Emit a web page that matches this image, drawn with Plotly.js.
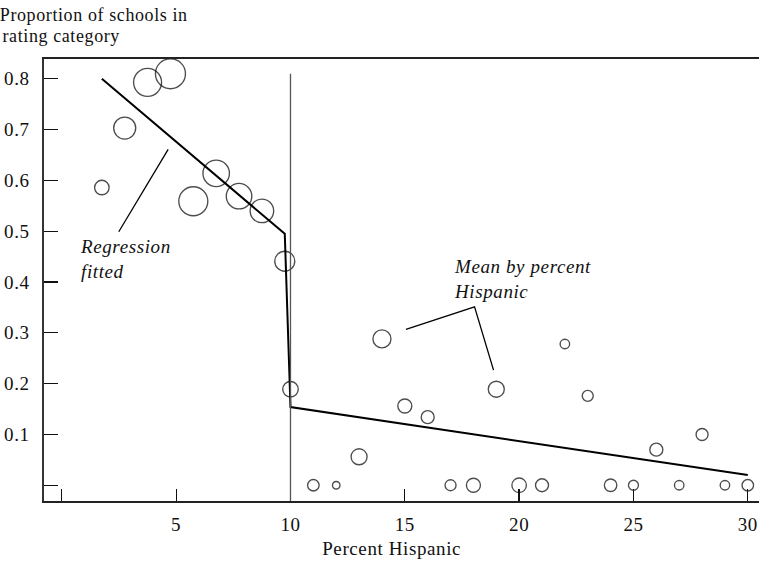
<!DOCTYPE html>
<html>
<head>
<meta charset="utf-8">
<script src="https://cdn.plot.ly/plotly-3.0.1.min.js"></script>
<style>
  html, body { margin: 0; padding: 0; background: #fff; }
  #chart { width: 759px; height: 562px; }
  #chart text { letter-spacing: 0.6px; }
</style>
</head>
<body>
<div id="chart"></div>
<script>
// Percent Hispanic (x) and proportion of schools in the rating category (y)
const pctHispanic = [1.75, 2.75, 3.75, 4.75, 5.75, 6.75, 7.75, 8.75, 9.75,
                     10, 11, 12, 13, 14, 15, 16, 17, 18, 19, 20,
                     21, 22, 23, 24, 25, 26, 27, 28, 29, 30];
const proportion = [0.586, 0.703, 0.793, 0.810, 0.559, 0.614, 0.569, 0.540, 0.441,
                    0.189, 0, 0, 0.056, 0.288, 0.156, 0.134, 0, 0, 0.189, 0,
                    0, 0.278, 0.176, 0, 0, 0.070, 0, 0.100, 0, 0];
// Circle diameter (px) reflects the number of schools behind each mean
const bubbleDiam = [14.5, 22, 28, 30, 29, 26.5, 25.5, 23.5, 20,
                    15.5, 11.5, 7.5, 16, 18, 14, 13, 11, 14, 16, 14.5,
                    13, 9.5, 11, 12.5, 10, 13, 9.5, 12, 9.5, 11.5];

// Fitted regression, discontinuous at the 10 percent cutoff
const fitX = [1.75, 9.75, 10, 30];
const fitY = [0.800, 0.495, 0.154, 0.020];
const cutoff = 10;

const xTickVals = [0, 5, 10, 15, 20, 25, 30];
const xTickText = ['', '5', '10', '15', '20', '25', '30'];
const yTickVals = [0, 0.1, 0.2, 0.3, 0.4, 0.5, 0.6, 0.7, 0.8];
const yTickText = ['', '0.1', '0.2', '0.3', '0.4', '0.5', '0.6', '0.7', '0.8'];

const SERIF = '"Liberation Serif", "Times New Roman", serif';
const INK = '#111';

// plot-area geometry used to place text in paper coordinates
const PLOT = { left: 44, width: 715, bottom: 500.7, height: 441.7 };
const px = v => (v - PLOT.left) / PLOT.width;
const py = v => (PLOT.bottom - v) / PLOT.height;

const traces = [
  {
    x: fitX, y: fitY, type: 'scatter', mode: 'lines',
    line: { color: '#000', width: 2 },
    hoverinfo: 'skip', cliponaxis: false
  },
  {
    x: pctHispanic, y: proportion, type: 'scatter', mode: 'markers',
    marker: { symbol: 'circle-open', size: bubbleDiam, color: '#000',
              line: { width: 1.35, color: '#000' } },
    cliponaxis: false
  }
];

const textFont = { family: SERIF, size: 19, color: INK };
const headFont = { family: SERIF, size: 18, color: INK };
const italicFont = { family: SERIF, size: 19, color: INK, style: 'italic' };

const layout = {
  width: 759, height: 562,
  margin: { l: 44, r: 0, t: 59, b: 61.3, pad: 0 },
  paper_bgcolor: '#fff', plot_bgcolor: '#fff',
  showlegend: false,
  xaxis: {
    range: [-0.78, 30.49], showgrid: false, zeroline: false,
    showline: true, linecolor: '#222', linewidth: 1.6, mirror: true,
    ticks: 'inside', ticklen: 12, tickwidth: 1.3, tickcolor: INK,
    tickvals: xTickVals, ticktext: xTickText,
    tickfont: textFont, ticklabelstandoff: 6
  },
  yaxis: {
    range: [-0.031, 0.839], showgrid: false, zeroline: false,
    showline: true, linecolor: '#333', linewidth: 1.6,
    ticks: 'inside', ticklen: 14, tickwidth: 1.3, tickcolor: INK,
    tickvals: yTickVals, ticktext: yTickText,
    tickfont: textFont, ticklabelstandoff: 9
  },
  shapes: [
    // cutoff marker at 10 percent
    { type: 'line', xref: 'x', yref: 'y', x0: cutoff, x1: cutoff, y0: -0.031, y1: 0.81,
      line: { color: '#555', width: 1.3 } },
    // leader for the regression label
    { type: 'line', xref: 'x', yref: 'y', x0: 2.49, y0: 0.499, x1: 4.65, y1: 0.661,
      line: { color: '#000', width: 1.3 } },
    // leaders for the mean label
    { type: 'path', xref: 'x', yref: 'y',
      path: 'M 15.05 0.307 L 18.05 0.351 L 18.88 0.2266',
      line: { color: '#000', width: 1.3 } }
  ],
  annotations: [
    { xref: 'paper', yref: 'paper', x: px(5), y: py(15), xanchor: 'left', yanchor: 'middle',
      text: 'Proportion of schools in', showarrow: false, font: headFont },
    { xref: 'paper', yref: 'paper', x: px(5), y: py(36), xanchor: 'left', yanchor: 'middle',
      text: 'rating category', showarrow: false, font: headFont },
    { xref: 'paper', yref: 'paper', x: px(391.7), y: py(548), xanchor: 'center', yanchor: 'middle',
      text: 'Percent Hispanic', showarrow: false, font: textFont },
    { xref: 'paper', yref: 'paper', x: px(78), y: py(259), xanchor: 'left', yanchor: 'middle',
      align: 'left', text: 'Regression<br>fitted', showarrow: false, font: italicFont },
    { xref: 'paper', yref: 'paper', x: px(452), y: py(279), xanchor: 'left', yanchor: 'middle',
      align: 'left', text: 'Mean by percent<br>Hispanic', showarrow: false, font: italicFont }
  ]
};

Plotly.newPlot('chart', traces, layout, { displayModeBar: false, staticPlot: true });
</script>
</body>
</html>
